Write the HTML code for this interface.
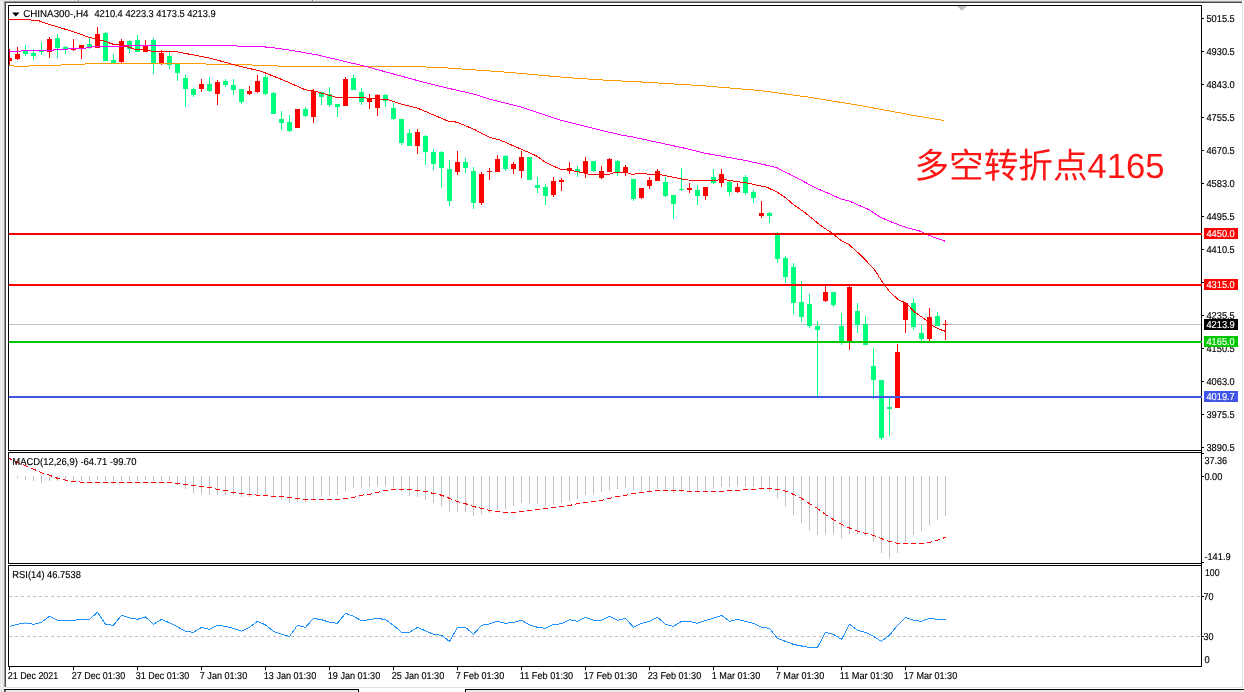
<!DOCTYPE html>
<html><head><meta charset="utf-8"><title>CHINA300 H4</title>
<style>
html,body{margin:0;padding:0;background:#fff;overflow:hidden}
svg{display:block;will-change:transform}
text{font-family:"Liberation Sans",sans-serif;white-space:pre;text-rendering:geometricPrecision}
rect,polyline,line{shape-rendering:crispEdges}
</style></head><body>
<svg width="1244" height="692" viewBox="0 0 1244 692">
<defs><clipPath id="cm"><rect x="9" y="6" width="1192" height="444"/></clipPath></defs>
<rect x="0" y="0" width="1244" height="692" fill="#fff"/>
<rect x="0" y="0" width="1244" height="1" fill="#e6e6e6"/>
<rect x="4" y="1" width="1238" height="1" fill="#a0a0a0"/>
<rect x="5" y="2" width="1237" height="1" fill="#484848"/>
<rect x="78" y="0" width="1" height="1" fill="#777"/>
<rect x="79" y="0" width="1" height="1" fill="#fff"/>
<rect x="312" y="0" width="1" height="1" fill="#777"/>
<rect x="313" y="0" width="1" height="1" fill="#fff"/>
<rect x="0" y="1" width="4" height="688" fill="#e6e6e6"/>
<rect x="1" y="1" width="1" height="688" fill="#f4f4f4"/>
<rect x="4" y="1" width="1" height="686" fill="#9a9a9a"/>
<rect x="5" y="2" width="1" height="685" fill="#484848"/>
<rect x="1242" y="3" width="1" height="685" fill="#e2e2e2"/>
<rect x="6" y="687" width="1236" height="1" fill="#e0e0e0"/>
<rect x="4" y="689" width="355" height="1" fill="#000"/>
<rect x="358" y="689" width="1" height="3" fill="#000"/>
<rect x="4" y="690" width="2" height="2" fill="#666"/>
<rect x="6" y="690" width="352" height="2" fill="#e8e8e8"/>
<rect x="465" y="689" width="779" height="1" fill="#000"/>
<rect x="465" y="689" width="1" height="3" fill="#000"/>
<rect x="466" y="690" width="778" height="2" fill="#e8e8e8"/>
<rect x="0" y="689" width="4" height="3" fill="#e6e6e6"/>
<rect x="9" y="324" width="1192" height="1" fill="#c0c0c0"/>
<polygon points="957,6 967,6 962,11" fill="#c0c0c0"/>
<g clip-path="url(#cm)">
<rect x="9" y="49" width="1" height="16" fill="#ff0000"/>
<rect x="7" y="58" width="5" height="3" fill="#ff0000"/>
<rect x="17" y="47" width="1" height="13" fill="#ff0000"/>
<rect x="15" y="54" width="5" height="5" fill="#ff0000"/>
<rect x="25" y="45" width="1" height="11" fill="#00ff7f"/>
<rect x="23" y="51" width="5" height="3" fill="#00ff7f"/>
<rect x="33" y="49" width="1" height="11" fill="#00ff7f"/>
<rect x="31" y="53" width="5" height="3" fill="#00ff7f"/>
<rect x="41" y="42" width="1" height="13" fill="#00ff7f"/>
<rect x="39" y="51" width="5" height="1" fill="#00ff7f"/>
<rect x="49" y="37" width="1" height="21" fill="#ff0000"/>
<rect x="47" y="39" width="5" height="13" fill="#ff0000"/>
<rect x="57" y="34" width="1" height="24" fill="#00ff7f"/>
<rect x="55" y="38" width="5" height="10" fill="#00ff7f"/>
<rect x="65" y="46" width="1" height="8" fill="#00ff7f"/>
<rect x="63" y="47" width="5" height="2" fill="#00ff7f"/>
<rect x="73" y="39" width="1" height="12" fill="#ff0000"/>
<rect x="71" y="49" width="5" height="1" fill="#ff0000"/>
<rect x="81" y="45" width="1" height="14" fill="#ff0000"/>
<rect x="79" y="45" width="5" height="3" fill="#ff0000"/>
<rect x="89" y="38" width="1" height="11" fill="#00ff7f"/>
<rect x="87" y="44" width="5" height="3" fill="#00ff7f"/>
<rect x="97" y="27" width="1" height="21" fill="#ff0000"/>
<rect x="95" y="34" width="5" height="14" fill="#ff0000"/>
<rect x="105" y="32" width="1" height="29" fill="#00ff7f"/>
<rect x="103" y="33" width="5" height="28" fill="#00ff7f"/>
<rect x="113" y="54" width="1" height="9" fill="#00ff7f"/>
<rect x="111" y="60" width="5" height="3" fill="#00ff7f"/>
<rect x="121" y="39" width="1" height="24" fill="#ff0000"/>
<rect x="119" y="41" width="5" height="21" fill="#ff0000"/>
<rect x="129" y="40" width="1" height="13" fill="#00ff7f"/>
<rect x="127" y="41" width="5" height="8" fill="#00ff7f"/>
<rect x="137" y="35" width="1" height="17" fill="#00ff7f"/>
<rect x="135" y="40" width="5" height="12" fill="#00ff7f"/>
<rect x="145" y="40" width="1" height="12" fill="#ff0000"/>
<rect x="143" y="46" width="5" height="6" fill="#ff0000"/>
<rect x="153" y="38" width="1" height="36" fill="#00ff7f"/>
<rect x="151" y="40" width="5" height="23" fill="#00ff7f"/>
<rect x="161" y="50" width="1" height="15" fill="#ff0000"/>
<rect x="159" y="53" width="5" height="11" fill="#ff0000"/>
<rect x="169" y="52" width="1" height="17" fill="#00ff7f"/>
<rect x="167" y="56" width="5" height="9" fill="#00ff7f"/>
<rect x="177" y="64" width="1" height="17" fill="#00ff7f"/>
<rect x="175" y="64" width="5" height="9" fill="#00ff7f"/>
<rect x="185" y="75" width="1" height="32" fill="#00ff7f"/>
<rect x="183" y="78" width="5" height="11" fill="#00ff7f"/>
<rect x="193" y="88" width="1" height="9" fill="#00ff7f"/>
<rect x="191" y="89" width="5" height="6" fill="#00ff7f"/>
<rect x="201" y="79" width="1" height="13" fill="#ff0000"/>
<rect x="199" y="84" width="5" height="5" fill="#ff0000"/>
<rect x="209" y="77" width="1" height="15" fill="#00ff7f"/>
<rect x="207" y="84" width="5" height="7" fill="#00ff7f"/>
<rect x="217" y="80" width="1" height="25" fill="#ff0000"/>
<rect x="215" y="82" width="5" height="12" fill="#ff0000"/>
<rect x="225" y="79" width="1" height="8" fill="#00ff7f"/>
<rect x="223" y="81" width="5" height="4" fill="#00ff7f"/>
<rect x="233" y="79" width="1" height="16" fill="#00ff7f"/>
<rect x="231" y="85" width="5" height="5" fill="#00ff7f"/>
<rect x="241" y="89" width="1" height="15" fill="#00ff7f"/>
<rect x="239" y="89" width="5" height="13" fill="#00ff7f"/>
<rect x="249" y="86" width="1" height="9" fill="#ff0000"/>
<rect x="247" y="91" width="5" height="3" fill="#ff0000"/>
<rect x="257" y="75" width="1" height="18" fill="#ff0000"/>
<rect x="255" y="81" width="5" height="11" fill="#ff0000"/>
<rect x="265" y="75" width="1" height="20" fill="#00ff7f"/>
<rect x="263" y="77" width="5" height="17" fill="#00ff7f"/>
<rect x="273" y="92" width="1" height="22" fill="#00ff7f"/>
<rect x="271" y="93" width="5" height="21" fill="#00ff7f"/>
<rect x="281" y="111" width="1" height="19" fill="#00ff7f"/>
<rect x="279" y="119" width="5" height="4" fill="#00ff7f"/>
<rect x="289" y="115" width="1" height="17" fill="#00ff7f"/>
<rect x="287" y="122" width="5" height="9" fill="#00ff7f"/>
<rect x="297" y="109" width="1" height="19" fill="#ff0000"/>
<rect x="295" y="109" width="5" height="19" fill="#ff0000"/>
<rect x="305" y="107" width="1" height="10" fill="#00ff7f"/>
<rect x="303" y="109" width="5" height="7" fill="#00ff7f"/>
<rect x="313" y="89" width="1" height="34" fill="#ff0000"/>
<rect x="311" y="91" width="5" height="26" fill="#ff0000"/>
<rect x="321" y="92" width="1" height="13" fill="#00ff7f"/>
<rect x="319" y="92" width="5" height="5" fill="#00ff7f"/>
<rect x="329" y="87" width="1" height="20" fill="#00ff7f"/>
<rect x="327" y="94" width="5" height="11" fill="#00ff7f"/>
<rect x="337" y="104" width="1" height="13" fill="#00ff7f"/>
<rect x="335" y="104" width="5" height="3" fill="#00ff7f"/>
<rect x="345" y="77" width="1" height="29" fill="#ff0000"/>
<rect x="343" y="79" width="5" height="27" fill="#ff0000"/>
<rect x="353" y="75" width="1" height="15" fill="#00ff7f"/>
<rect x="351" y="78" width="5" height="12" fill="#00ff7f"/>
<rect x="361" y="88" width="1" height="17" fill="#00ff7f"/>
<rect x="359" y="92" width="5" height="10" fill="#00ff7f"/>
<rect x="369" y="94" width="1" height="15" fill="#ff0000"/>
<rect x="367" y="99" width="5" height="3" fill="#ff0000"/>
<rect x="377" y="94" width="1" height="22" fill="#ff0000"/>
<rect x="375" y="95" width="5" height="13" fill="#ff0000"/>
<rect x="385" y="94" width="1" height="13" fill="#00ff7f"/>
<rect x="383" y="95" width="5" height="6" fill="#00ff7f"/>
<rect x="393" y="103" width="1" height="17" fill="#00ff7f"/>
<rect x="391" y="108" width="5" height="11" fill="#00ff7f"/>
<rect x="401" y="119" width="1" height="26" fill="#00ff7f"/>
<rect x="399" y="119" width="5" height="24" fill="#00ff7f"/>
<rect x="409" y="129" width="1" height="17" fill="#00ff7f"/>
<rect x="407" y="133" width="5" height="13" fill="#00ff7f"/>
<rect x="417" y="129" width="1" height="25" fill="#ff0000"/>
<rect x="415" y="132" width="5" height="14" fill="#ff0000"/>
<rect x="425" y="135" width="1" height="30" fill="#00ff7f"/>
<rect x="423" y="136" width="5" height="16" fill="#00ff7f"/>
<rect x="433" y="149" width="1" height="21" fill="#00ff7f"/>
<rect x="431" y="152" width="5" height="12" fill="#00ff7f"/>
<rect x="441" y="151" width="1" height="37" fill="#00ff7f"/>
<rect x="439" y="152" width="5" height="16" fill="#00ff7f"/>
<rect x="449" y="160" width="1" height="46" fill="#00ff7f"/>
<rect x="447" y="169" width="5" height="32" fill="#00ff7f"/>
<rect x="457" y="151" width="1" height="24" fill="#ff0000"/>
<rect x="455" y="162" width="5" height="10" fill="#ff0000"/>
<rect x="465" y="158" width="1" height="15" fill="#00ff7f"/>
<rect x="463" y="162" width="5" height="6" fill="#00ff7f"/>
<rect x="473" y="167" width="1" height="42" fill="#00ff7f"/>
<rect x="471" y="171" width="5" height="32" fill="#00ff7f"/>
<rect x="481" y="172" width="1" height="33" fill="#ff0000"/>
<rect x="479" y="174" width="5" height="29" fill="#ff0000"/>
<rect x="489" y="168" width="1" height="12" fill="#ff0000"/>
<rect x="487" y="171" width="5" height="1" fill="#ff0000"/>
<rect x="497" y="155" width="1" height="17" fill="#ff0000"/>
<rect x="495" y="159" width="5" height="13" fill="#ff0000"/>
<rect x="505" y="155" width="1" height="16" fill="#00ff7f"/>
<rect x="503" y="156" width="5" height="13" fill="#00ff7f"/>
<rect x="513" y="162" width="1" height="12" fill="#ff0000"/>
<rect x="511" y="164" width="5" height="5" fill="#ff0000"/>
<rect x="521" y="151" width="1" height="27" fill="#ff0000"/>
<rect x="519" y="157" width="5" height="14" fill="#ff0000"/>
<rect x="529" y="157" width="1" height="23" fill="#00ff7f"/>
<rect x="527" y="157" width="5" height="23" fill="#00ff7f"/>
<rect x="537" y="177" width="1" height="16" fill="#00ff7f"/>
<rect x="535" y="185" width="5" height="3" fill="#00ff7f"/>
<rect x="545" y="184" width="1" height="21" fill="#00ff7f"/>
<rect x="543" y="187" width="5" height="9" fill="#00ff7f"/>
<rect x="553" y="177" width="1" height="20" fill="#ff0000"/>
<rect x="551" y="181" width="5" height="14" fill="#ff0000"/>
<rect x="561" y="178" width="1" height="13" fill="#ff0000"/>
<rect x="559" y="180" width="5" height="2" fill="#ff0000"/>
<rect x="569" y="162" width="1" height="12" fill="#ff0000"/>
<rect x="567" y="168" width="5" height="3" fill="#ff0000"/>
<rect x="577" y="166" width="1" height="11" fill="#00ff7f"/>
<rect x="575" y="169" width="5" height="3" fill="#00ff7f"/>
<rect x="585" y="157" width="1" height="21" fill="#ff0000"/>
<rect x="583" y="161" width="5" height="12" fill="#ff0000"/>
<rect x="593" y="161" width="1" height="11" fill="#00ff7f"/>
<rect x="591" y="161" width="5" height="10" fill="#00ff7f"/>
<rect x="601" y="166" width="1" height="13" fill="#ff0000"/>
<rect x="599" y="171" width="5" height="7" fill="#ff0000"/>
<rect x="609" y="158" width="1" height="14" fill="#ff0000"/>
<rect x="607" y="159" width="5" height="13" fill="#ff0000"/>
<rect x="617" y="160" width="1" height="16" fill="#00ff7f"/>
<rect x="615" y="161" width="5" height="11" fill="#00ff7f"/>
<rect x="625" y="165" width="1" height="11" fill="#ff0000"/>
<rect x="623" y="167" width="5" height="6" fill="#ff0000"/>
<rect x="633" y="179" width="1" height="22" fill="#00ff7f"/>
<rect x="631" y="179" width="5" height="20" fill="#00ff7f"/>
<rect x="641" y="188" width="1" height="11" fill="#ff0000"/>
<rect x="639" y="188" width="5" height="10" fill="#ff0000"/>
<rect x="649" y="177" width="1" height="12" fill="#ff0000"/>
<rect x="647" y="180" width="5" height="6" fill="#ff0000"/>
<rect x="657" y="169" width="1" height="12" fill="#ff0000"/>
<rect x="655" y="171" width="5" height="10" fill="#ff0000"/>
<rect x="665" y="177" width="1" height="20" fill="#00ff7f"/>
<rect x="663" y="182" width="5" height="14" fill="#00ff7f"/>
<rect x="673" y="195" width="1" height="24" fill="#00ff7f"/>
<rect x="671" y="195" width="5" height="9" fill="#00ff7f"/>
<rect x="681" y="168" width="1" height="23" fill="#00ff7f"/>
<rect x="679" y="189" width="5" height="1" fill="#00ff7f"/>
<rect x="689" y="183" width="1" height="10" fill="#ff0000"/>
<rect x="687" y="188" width="5" height="2" fill="#ff0000"/>
<rect x="697" y="185" width="1" height="20" fill="#00ff7f"/>
<rect x="695" y="190" width="5" height="6" fill="#00ff7f"/>
<rect x="705" y="187" width="1" height="13" fill="#ff0000"/>
<rect x="703" y="187" width="5" height="9" fill="#ff0000"/>
<rect x="713" y="169" width="1" height="15" fill="#00ff7f"/>
<rect x="711" y="177" width="5" height="6" fill="#00ff7f"/>
<rect x="721" y="169" width="1" height="18" fill="#ff0000"/>
<rect x="719" y="174" width="5" height="9" fill="#ff0000"/>
<rect x="729" y="181" width="1" height="15" fill="#00ff7f"/>
<rect x="727" y="182" width="5" height="10" fill="#00ff7f"/>
<rect x="737" y="183" width="1" height="10" fill="#ff0000"/>
<rect x="735" y="187" width="5" height="5" fill="#ff0000"/>
<rect x="745" y="175" width="1" height="20" fill="#00ff7f"/>
<rect x="743" y="177" width="5" height="16" fill="#00ff7f"/>
<rect x="753" y="190" width="1" height="13" fill="#00ff7f"/>
<rect x="751" y="192" width="5" height="6" fill="#00ff7f"/>
<rect x="761" y="201" width="1" height="17" fill="#ff0000"/>
<rect x="759" y="213" width="5" height="3" fill="#ff0000"/>
<rect x="769" y="212" width="1" height="11" fill="#00ff7f"/>
<rect x="767" y="213" width="5" height="3" fill="#00ff7f"/>
<rect x="777" y="232" width="1" height="31" fill="#00ff7f"/>
<rect x="775" y="235" width="5" height="24" fill="#00ff7f"/>
<rect x="785" y="256" width="1" height="27" fill="#00ff7f"/>
<rect x="783" y="258" width="5" height="19" fill="#00ff7f"/>
<rect x="793" y="263" width="1" height="51" fill="#00ff7f"/>
<rect x="791" y="267" width="5" height="36" fill="#00ff7f"/>
<rect x="801" y="281" width="1" height="41" fill="#00ff7f"/>
<rect x="799" y="302" width="5" height="15" fill="#00ff7f"/>
<rect x="809" y="294" width="1" height="34" fill="#00ff7f"/>
<rect x="807" y="304" width="5" height="22" fill="#00ff7f"/>
<rect x="817" y="321" width="1" height="75" fill="#00ff7f"/>
<rect x="815" y="326" width="5" height="4" fill="#00ff7f"/>
<rect x="825" y="286" width="1" height="16" fill="#ff0000"/>
<rect x="823" y="292" width="5" height="9" fill="#ff0000"/>
<rect x="833" y="292" width="1" height="15" fill="#00ff7f"/>
<rect x="831" y="292" width="5" height="13" fill="#00ff7f"/>
<rect x="841" y="313" width="1" height="32" fill="#00ff7f"/>
<rect x="839" y="326" width="5" height="16" fill="#00ff7f"/>
<rect x="849" y="286" width="1" height="64" fill="#ff0000"/>
<rect x="847" y="287" width="5" height="54" fill="#ff0000"/>
<rect x="857" y="303" width="1" height="30" fill="#00ff7f"/>
<rect x="855" y="311" width="5" height="14" fill="#00ff7f"/>
<rect x="865" y="316" width="1" height="29" fill="#00ff7f"/>
<rect x="863" y="324" width="5" height="21" fill="#00ff7f"/>
<rect x="873" y="348" width="1" height="51" fill="#00ff7f"/>
<rect x="871" y="366" width="5" height="14" fill="#00ff7f"/>
<rect x="881" y="380" width="1" height="60" fill="#00ff7f"/>
<rect x="879" y="380" width="5" height="58" fill="#00ff7f"/>
<rect x="889" y="396" width="1" height="40" fill="#00ff7f"/>
<rect x="887" y="407" width="5" height="2" fill="#00ff7f"/>
<rect x="897" y="344" width="1" height="64" fill="#ff0000"/>
<rect x="895" y="352" width="5" height="56" fill="#ff0000"/>
<rect x="905" y="302" width="1" height="31" fill="#ff0000"/>
<rect x="903" y="303" width="5" height="17" fill="#ff0000"/>
<rect x="913" y="299" width="1" height="31" fill="#00ff7f"/>
<rect x="911" y="303" width="5" height="24" fill="#00ff7f"/>
<rect x="921" y="325" width="1" height="16" fill="#00ff7f"/>
<rect x="919" y="333" width="5" height="6" fill="#00ff7f"/>
<rect x="929" y="308" width="1" height="33" fill="#ff0000"/>
<rect x="927" y="317" width="5" height="22" fill="#ff0000"/>
<rect x="937" y="312" width="1" height="14" fill="#00ff7f"/>
<rect x="935" y="316" width="5" height="10" fill="#00ff7f"/>
<rect x="945" y="320" width="1" height="20" fill="#ff0000"/>
<rect x="943" y="324" width="5" height="1" fill="#ff0000"/>
</g>
<polyline points="9,65.4 13.4,65.4 14.4,66.5 28.8,66.5 29.8,65.5 60.3,65.4 62,64.8 84.7,64.4 86,63.5 164.5,63.5 205.7,63.4 206.5,64.5 277.7,65.3 278.5,66.3 320,66.3 405.2,66.1 446.3,67.9 510.6,72.5 567.2,77.6 613.5,80.7 630,81.3 702,85.7 758.6,90.4 810,97.3 861.5,105.8 913,115.3 944.3,120.5" fill="none" stroke="#ff9a00" stroke-width="1"/>
<polyline points="9,51.3 20.4,51.3 21.7,50.5 52.6,50.5 54,49.6 84.7,48.3 95,46.4 164.5,45.5 230,45.6 238,46.05 261.6,46.6 275,48 288.6,49.9 317.7,55 366.6,66.6 380,70.3 418,80.7 448.9,88.4 475,94.4 490,99.2 523.5,107.7 562,120.6 593,128.3 622.2,135.3 630,136.4 681.4,147.5 705,153.2 744.5,160.3 776.6,167.5 778.6,168.7 790,174.3 815.7,187.9 841.4,199.1 849.2,201 869.7,210 880,217.1 892.9,222.6 905.8,227.4 918.6,230.6 931.5,236.4 944.8,241.1" fill="none" stroke="#ff00ff" stroke-width="1"/>
<polyline points="9,19.8 29,19.8 38.6,20.7 48.2,24.1 57.9,27 67.5,29.9 77,32.9 88.6,37.2 95,38.7 102.7,40.6 113,44.2 120.8,45.1 128.5,47 136.2,49.6 145.2,49.8 152.9,51.3 164.5,51.3 173.5,51.2 187,53.7 211.4,58.5 237.2,65.6 261.6,71.4 288.6,82.3 305.3,89.8 315,91.2 320,92.6 336.2,97.3 357.4,97.3 372.9,98.6 388.3,99.8 399.9,103.7 417.9,108.3 448.8,121.4 456.5,122.1 464.5,125.3 475,129.8 490.2,137.6 500.5,140.2 521,149.1 536.5,155.9 545,162 555,166.8 560.4,169.1 566.9,169.5 583.6,172.9 590,174.6 609.3,174.2 615.7,172.3 627.3,172.9 632.5,174.6 637.6,173.3 645.3,173.3 647.9,174.2 658.2,174.2 673.6,177.4 687.8,180 705,180.3 716.9,180.3 719.4,179.3 725.9,179.9 746.4,182.9 767,187.3 777.3,192.2 785,197.3 794,205 804.3,212.1 818.5,223.7 824,228 830.5,231.9 840.7,240.2 848.5,244.1 861.3,255.7 874.2,269.2 883.2,283.3 889.6,291.7 898.6,300 906.3,303.2 914,311.6 920.5,316.1 926.3,320.2 932.8,326 939.2,329.2 945.6,331.4" fill="none" stroke="#ff0000" stroke-width="1"/>
<rect x="8" y="5" width="1194" height="1" fill="#000"/>
<rect x="8" y="5" width="1" height="446" fill="#000"/>
<rect x="8" y="450" width="1194" height="1" fill="#000"/>
<rect x="1201" y="5" width="1" height="662" fill="#000"/>
<rect x="9" y="233" width="1193" height="2" fill="#ff0000"/>
<rect x="9" y="284" width="1193" height="2" fill="#ff0000"/>
<rect x="9" y="341" width="1193" height="2" fill="#00c800"/>
<rect x="9" y="396" width="1193" height="2" fill="#4156e6"/>
<polygon points="12,12.5 19.6,12.5 15.8,16.6" fill="#000"/>
<text x="23.2" y="17" font-size="10" fill="#000" text-anchor="start" textLength="65.3" lengthAdjust="spacingAndGlyphs" stroke="#000" stroke-width="0.15">CHINA300-,H4</text>
<text x="94.4" y="17" font-size="10" fill="#000" text-anchor="start" textLength="28.4" lengthAdjust="spacingAndGlyphs" stroke="#000" stroke-width="0.15">4210.4</text>
<text x="125.4" y="17" font-size="10" fill="#000" text-anchor="start" textLength="28.4" lengthAdjust="spacingAndGlyphs" stroke="#000" stroke-width="0.15">4223.3</text>
<text x="156.3" y="17" font-size="10" fill="#000" text-anchor="start" textLength="28.4" lengthAdjust="spacingAndGlyphs" stroke="#000" stroke-width="0.15">4173.5</text>
<text x="187.3" y="17" font-size="10" fill="#000" text-anchor="start" textLength="28.4" lengthAdjust="spacingAndGlyphs" stroke="#000" stroke-width="0.15">4213.9</text>
<rect x="1202" y="18" width="2" height="1" fill="#000"/>
<text x="1206.4" y="22" font-size="10" fill="#000" text-anchor="start" textLength="28.4" lengthAdjust="spacingAndGlyphs" stroke="#000" stroke-width="0.15">5015.5</text>
<rect x="1202" y="51" width="2" height="1" fill="#000"/>
<text x="1206.4" y="55" font-size="10" fill="#000" text-anchor="start" textLength="28.4" lengthAdjust="spacingAndGlyphs" stroke="#000" stroke-width="0.15">4930.5</text>
<rect x="1202" y="84" width="2" height="1" fill="#000"/>
<text x="1206.4" y="88" font-size="10" fill="#000" text-anchor="start" textLength="28.4" lengthAdjust="spacingAndGlyphs" stroke="#000" stroke-width="0.15">4843.0</text>
<rect x="1202" y="117" width="2" height="1" fill="#000"/>
<text x="1206.4" y="121" font-size="10" fill="#000" text-anchor="start" textLength="28.4" lengthAdjust="spacingAndGlyphs" stroke="#000" stroke-width="0.15">4755.5</text>
<rect x="1202" y="150" width="2" height="1" fill="#000"/>
<text x="1206.4" y="154" font-size="10" fill="#000" text-anchor="start" textLength="28.4" lengthAdjust="spacingAndGlyphs" stroke="#000" stroke-width="0.15">4670.5</text>
<rect x="1202" y="183" width="2" height="1" fill="#000"/>
<text x="1206.4" y="187" font-size="10" fill="#000" text-anchor="start" textLength="28.4" lengthAdjust="spacingAndGlyphs" stroke="#000" stroke-width="0.15">4583.0</text>
<rect x="1202" y="216" width="2" height="1" fill="#000"/>
<text x="1206.4" y="220" font-size="10" fill="#000" text-anchor="start" textLength="28.4" lengthAdjust="spacingAndGlyphs" stroke="#000" stroke-width="0.15">4495.5</text>
<rect x="1202" y="249" width="2" height="1" fill="#000"/>
<text x="1206.4" y="253" font-size="10" fill="#000" text-anchor="start" textLength="28.4" lengthAdjust="spacingAndGlyphs" stroke="#000" stroke-width="0.15">4410.5</text>
<rect x="1202" y="282" width="2" height="1" fill="#000"/>
<rect x="1202" y="315" width="2" height="1" fill="#000"/>
<text x="1206.4" y="319" font-size="10" fill="#000" text-anchor="start" textLength="28.4" lengthAdjust="spacingAndGlyphs" stroke="#000" stroke-width="0.15">4235.5</text>
<rect x="1202" y="348" width="2" height="1" fill="#000"/>
<text x="1206.4" y="352" font-size="10" fill="#000" text-anchor="start" textLength="28.4" lengthAdjust="spacingAndGlyphs" stroke="#000" stroke-width="0.15">4150.5</text>
<rect x="1202" y="381" width="2" height="1" fill="#000"/>
<text x="1206.4" y="385" font-size="10" fill="#000" text-anchor="start" textLength="28.4" lengthAdjust="spacingAndGlyphs" stroke="#000" stroke-width="0.15">4063.0</text>
<rect x="1202" y="414" width="2" height="1" fill="#000"/>
<text x="1206.4" y="418" font-size="10" fill="#000" text-anchor="start" textLength="28.4" lengthAdjust="spacingAndGlyphs" stroke="#000" stroke-width="0.15">3975.5</text>
<rect x="1202" y="447" width="2" height="1" fill="#000"/>
<text x="1206.4" y="451" font-size="10" fill="#000" text-anchor="start" textLength="28.4" lengthAdjust="spacingAndGlyphs" stroke="#000" stroke-width="0.15">3890.5</text>
<rect x="1204" y="228" width="34" height="11" fill="#ff0000"/>
<text x="1206.4" y="237" font-size="10" fill="#fff" text-anchor="start" textLength="28.4" lengthAdjust="spacingAndGlyphs" stroke="#fff" stroke-width="0.15">4450.0</text>
<rect x="1204" y="279" width="34" height="11" fill="#ff0000"/>
<text x="1206.4" y="288" font-size="10" fill="#fff" text-anchor="start" textLength="28.4" lengthAdjust="spacingAndGlyphs" stroke="#fff" stroke-width="0.15">4315.0</text>
<rect x="1204" y="319" width="34" height="11" fill="#000"/>
<text x="1206.4" y="328" font-size="10" fill="#fff" text-anchor="start" textLength="28.4" lengthAdjust="spacingAndGlyphs" stroke="#fff" stroke-width="0.15">4213.9</text>
<rect x="1204" y="336" width="34" height="11" fill="#00c800"/>
<text x="1206.4" y="345" font-size="10" fill="#fff" text-anchor="start" textLength="28.4" lengthAdjust="spacingAndGlyphs" stroke="#fff" stroke-width="0.15">4165.0</text>
<rect x="1204" y="391" width="34" height="11" fill="#4156e6"/>
<text x="1206.4" y="400" font-size="10" fill="#fff" text-anchor="start" textLength="28.4" lengthAdjust="spacingAndGlyphs" stroke="#fff" stroke-width="0.15">4019.7</text>
<text x="914.5" y="178.2" font-size="34.9" fill="#ff1414" text-anchor="start" textLength="250" lengthAdjust="spacingAndGlyphs" style="font-family:'Liberation Sans','Noto Sans CJK SC',sans-serif">多空转折点4165</text>
<rect x="8" y="452" width="1194" height="1" fill="#000"/>
<rect x="8" y="452" width="1" height="112" fill="#000"/>
<rect x="8" y="563" width="1194" height="1" fill="#000"/>
<rect x="17" y="476" width="1" height="2" fill="#c0c0c0"/>
<rect x="25" y="476" width="1" height="4" fill="#c0c0c0"/>
<rect x="33" y="476" width="1" height="5" fill="#c0c0c0"/>
<rect x="41" y="476" width="1" height="7" fill="#c0c0c0"/>
<rect x="49" y="476" width="1" height="5" fill="#c0c0c0"/>
<rect x="57" y="476" width="1" height="5" fill="#c0c0c0"/>
<rect x="65" y="476" width="1" height="5" fill="#c0c0c0"/>
<rect x="73" y="476" width="1" height="5" fill="#c0c0c0"/>
<rect x="81" y="476" width="1" height="5" fill="#c0c0c0"/>
<rect x="89" y="476" width="1" height="5" fill="#c0c0c0"/>
<rect x="97" y="476" width="1" height="4" fill="#c0c0c0"/>
<rect x="105" y="476" width="1" height="5" fill="#c0c0c0"/>
<rect x="113" y="476" width="1" height="8" fill="#c0c0c0"/>
<rect x="121" y="476" width="1" height="5" fill="#c0c0c0"/>
<rect x="129" y="476" width="1" height="5" fill="#c0c0c0"/>
<rect x="137" y="476" width="1" height="5" fill="#c0c0c0"/>
<rect x="145" y="476" width="1" height="4" fill="#c0c0c0"/>
<rect x="153" y="476" width="1" height="5" fill="#c0c0c0"/>
<rect x="161" y="476" width="1" height="5" fill="#c0c0c0"/>
<rect x="169" y="476" width="1" height="5" fill="#c0c0c0"/>
<rect x="177" y="476" width="1" height="9" fill="#c0c0c0"/>
<rect x="185" y="476" width="1" height="13" fill="#c0c0c0"/>
<rect x="193" y="476" width="1" height="17" fill="#c0c0c0"/>
<rect x="201" y="476" width="1" height="18" fill="#c0c0c0"/>
<rect x="209" y="476" width="1" height="19" fill="#c0c0c0"/>
<rect x="217" y="476" width="1" height="19" fill="#c0c0c0"/>
<rect x="225" y="476" width="1" height="19" fill="#c0c0c0"/>
<rect x="233" y="476" width="1" height="19" fill="#c0c0c0"/>
<rect x="241" y="476" width="1" height="21" fill="#c0c0c0"/>
<rect x="249" y="476" width="1" height="21" fill="#c0c0c0"/>
<rect x="257" y="476" width="1" height="20" fill="#c0c0c0"/>
<rect x="265" y="476" width="1" height="20" fill="#c0c0c0"/>
<rect x="273" y="476" width="1" height="21" fill="#c0c0c0"/>
<rect x="281" y="476" width="1" height="24" fill="#c0c0c0"/>
<rect x="289" y="476" width="1" height="27" fill="#c0c0c0"/>
<rect x="297" y="476" width="1" height="26" fill="#c0c0c0"/>
<rect x="305" y="476" width="1" height="26" fill="#c0c0c0"/>
<rect x="313" y="476" width="1" height="24" fill="#c0c0c0"/>
<rect x="321" y="476" width="1" height="21" fill="#c0c0c0"/>
<rect x="329" y="476" width="1" height="20" fill="#c0c0c0"/>
<rect x="337" y="476" width="1" height="19" fill="#c0c0c0"/>
<rect x="345" y="476" width="1" height="15" fill="#c0c0c0"/>
<rect x="353" y="476" width="1" height="12" fill="#c0c0c0"/>
<rect x="361" y="476" width="1" height="12" fill="#c0c0c0"/>
<rect x="369" y="476" width="1" height="11" fill="#c0c0c0"/>
<rect x="377" y="476" width="1" height="10" fill="#c0c0c0"/>
<rect x="385" y="476" width="1" height="10" fill="#c0c0c0"/>
<rect x="393" y="476" width="1" height="12" fill="#c0c0c0"/>
<rect x="401" y="476" width="1" height="16" fill="#c0c0c0"/>
<rect x="409" y="476" width="1" height="20" fill="#c0c0c0"/>
<rect x="417" y="476" width="1" height="21" fill="#c0c0c0"/>
<rect x="425" y="476" width="1" height="24" fill="#c0c0c0"/>
<rect x="433" y="476" width="1" height="27" fill="#c0c0c0"/>
<rect x="441" y="476" width="1" height="30" fill="#c0c0c0"/>
<rect x="449" y="476" width="1" height="36" fill="#c0c0c0"/>
<rect x="457" y="476" width="1" height="36" fill="#c0c0c0"/>
<rect x="465" y="476" width="1" height="36" fill="#c0c0c0"/>
<rect x="473" y="476" width="1" height="40" fill="#c0c0c0"/>
<rect x="481" y="476" width="1" height="38" fill="#c0c0c0"/>
<rect x="489" y="476" width="1" height="37" fill="#c0c0c0"/>
<rect x="497" y="476" width="1" height="34" fill="#c0c0c0"/>
<rect x="505" y="476" width="1" height="33" fill="#c0c0c0"/>
<rect x="513" y="476" width="1" height="30" fill="#c0c0c0"/>
<rect x="521" y="476" width="1" height="27" fill="#c0c0c0"/>
<rect x="529" y="476" width="1" height="28" fill="#c0c0c0"/>
<rect x="537" y="476" width="1" height="28" fill="#c0c0c0"/>
<rect x="545" y="476" width="1" height="30" fill="#c0c0c0"/>
<rect x="553" y="476" width="1" height="29" fill="#c0c0c0"/>
<rect x="561" y="476" width="1" height="27" fill="#c0c0c0"/>
<rect x="569" y="476" width="1" height="25" fill="#c0c0c0"/>
<rect x="577" y="476" width="1" height="23" fill="#c0c0c0"/>
<rect x="585" y="476" width="1" height="19" fill="#c0c0c0"/>
<rect x="593" y="476" width="1" height="18" fill="#c0c0c0"/>
<rect x="601" y="476" width="1" height="16" fill="#c0c0c0"/>
<rect x="609" y="476" width="1" height="14" fill="#c0c0c0"/>
<rect x="617" y="476" width="1" height="13" fill="#c0c0c0"/>
<rect x="625" y="476" width="1" height="12" fill="#c0c0c0"/>
<rect x="633" y="476" width="1" height="14" fill="#c0c0c0"/>
<rect x="641" y="476" width="1" height="15" fill="#c0c0c0"/>
<rect x="649" y="476" width="1" height="15" fill="#c0c0c0"/>
<rect x="657" y="476" width="1" height="13" fill="#c0c0c0"/>
<rect x="665" y="476" width="1" height="15" fill="#c0c0c0"/>
<rect x="673" y="476" width="1" height="17" fill="#c0c0c0"/>
<rect x="681" y="476" width="1" height="16" fill="#c0c0c0"/>
<rect x="689" y="476" width="1" height="16" fill="#c0c0c0"/>
<rect x="697" y="476" width="1" height="16" fill="#c0c0c0"/>
<rect x="705" y="476" width="1" height="16" fill="#c0c0c0"/>
<rect x="713" y="476" width="1" height="13" fill="#c0c0c0"/>
<rect x="721" y="476" width="1" height="11" fill="#c0c0c0"/>
<rect x="729" y="476" width="1" height="11" fill="#c0c0c0"/>
<rect x="737" y="476" width="1" height="10" fill="#c0c0c0"/>
<rect x="745" y="476" width="1" height="11" fill="#c0c0c0"/>
<rect x="753" y="476" width="1" height="11" fill="#c0c0c0"/>
<rect x="761" y="476" width="1" height="14" fill="#c0c0c0"/>
<rect x="769" y="476" width="1" height="16" fill="#c0c0c0"/>
<rect x="777" y="476" width="1" height="22" fill="#c0c0c0"/>
<rect x="785" y="476" width="1" height="30" fill="#c0c0c0"/>
<rect x="793" y="476" width="1" height="39" fill="#c0c0c0"/>
<rect x="801" y="476" width="1" height="47" fill="#c0c0c0"/>
<rect x="809" y="476" width="1" height="54" fill="#c0c0c0"/>
<rect x="817" y="476" width="1" height="59" fill="#c0c0c0"/>
<rect x="825" y="476" width="1" height="58" fill="#c0c0c0"/>
<rect x="833" y="476" width="1" height="58" fill="#c0c0c0"/>
<rect x="841" y="476" width="1" height="62" fill="#c0c0c0"/>
<rect x="849" y="476" width="1" height="58" fill="#c0c0c0"/>
<rect x="857" y="476" width="1" height="58" fill="#c0c0c0"/>
<rect x="865" y="476" width="1" height="60" fill="#c0c0c0"/>
<rect x="873" y="476" width="1" height="66" fill="#c0c0c0"/>
<rect x="881" y="476" width="1" height="77" fill="#c0c0c0"/>
<rect x="889" y="476" width="1" height="82" fill="#c0c0c0"/>
<rect x="897" y="476" width="1" height="77" fill="#c0c0c0"/>
<rect x="905" y="476" width="1" height="66" fill="#c0c0c0"/>
<rect x="913" y="476" width="1" height="59" fill="#c0c0c0"/>
<rect x="921" y="476" width="1" height="55" fill="#c0c0c0"/>
<rect x="929" y="476" width="1" height="49" fill="#c0c0c0"/>
<rect x="937" y="476" width="1" height="44" fill="#c0c0c0"/>
<rect x="945" y="476" width="1" height="40" fill="#c0c0c0"/>
<polyline points="9,458 9.5,458.312 12,459.875" fill="none" stroke="#ff0000" stroke-width="1"/>
<polyline points="15,461.35 17.5,462.412 20,463.473" fill="none" stroke="#ff0000" stroke-width="1"/>
<polyline points="23,464.748 25.5,465.8 28,466.842" fill="none" stroke="#ff0000" stroke-width="1"/>
<polyline points="31,468.092 33.5,469.133 36,470.259" fill="none" stroke="#ff0000" stroke-width="1"/>
<polyline points="39,471.63 41.5,472.772 44,473.6" fill="none" stroke="#ff0000" stroke-width="1"/>
<polyline points="47,474.5 49.5,475.25 52,476.2" fill="none" stroke="#ff0000" stroke-width="1"/>
<polyline points="55,477.4 57.5,478.4 60,479" fill="none" stroke="#ff0000" stroke-width="1"/>
<polyline points="63,479.6 65.5,480.1 68,480.5" fill="none" stroke="#ff0000" stroke-width="1"/>
<polyline points="71,480.95 73.5,481.325 76,481.595" fill="none" stroke="#ff0000" stroke-width="1"/>
<polyline points="79,481.888 81.5,482.132 84,482.2" fill="none" stroke="#ff0000" stroke-width="1"/>
<polyline points="87,482.2 89.5,482.2 92,482.2" fill="none" stroke="#ff0000" stroke-width="1"/>
<polyline points="95,482.2 97.5,482.2 100,482.2" fill="none" stroke="#ff0000" stroke-width="1"/>
<polyline points="103,482.2 105.5,482.2 108,482.2" fill="none" stroke="#ff0000" stroke-width="1"/>
<polyline points="111,482.2 113.5,482.2 116,482.2" fill="none" stroke="#ff0000" stroke-width="1"/>
<polyline points="119,482.2 121.5,482.2 124,482.2" fill="none" stroke="#ff0000" stroke-width="1"/>
<polyline points="127,482.2 129.5,482.2 132,482.2" fill="none" stroke="#ff0000" stroke-width="1"/>
<polyline points="135,482.2 137.5,482.2 140,482.2" fill="none" stroke="#ff0000" stroke-width="1"/>
<polyline points="143,482.2 145.5,482.2 148,482.2" fill="none" stroke="#ff0000" stroke-width="1"/>
<polyline points="151,482.2 153.5,482.2 156,482.2" fill="none" stroke="#ff0000" stroke-width="1"/>
<polyline points="159,482.2 161.5,482.2 164,482.2" fill="none" stroke="#ff0000" stroke-width="1"/>
<polyline points="167,482.2 169.5,482.275 172,482.65" fill="none" stroke="#ff0000" stroke-width="1"/>
<polyline points="175,483.1 177.5,483.45 180,483.7" fill="none" stroke="#ff0000" stroke-width="1"/>
<polyline points="183,484 185.5,484.275 188,484.65" fill="none" stroke="#ff0000" stroke-width="1"/>
<polyline points="191,485.1 193.5,485.46 196,485.757" fill="none" stroke="#ff0000" stroke-width="1"/>
<polyline points="199,486.114 201.5,486.414 204,486.753" fill="none" stroke="#ff0000" stroke-width="1"/>
<polyline points="207,487.16 209.5,487.5 212,488.094" fill="none" stroke="#ff0000" stroke-width="1"/>
<polyline points="215,488.806 217.5,489.4 220,489.712" fill="none" stroke="#ff0000" stroke-width="1"/>
<polyline points="223,490.087 225.5,490.4 228,491.128" fill="none" stroke="#ff0000" stroke-width="1"/>
<polyline points="231,492.001 233.5,492.711 236,492.989" fill="none" stroke="#ff0000" stroke-width="1"/>
<polyline points="239,493.322 241.5,493.6 244,493.85" fill="none" stroke="#ff0000" stroke-width="1"/>
<polyline points="247,494.15 249.5,494.4 252,494.65" fill="none" stroke="#ff0000" stroke-width="1"/>
<polyline points="255,494.95 257.5,495.2 260,495.2" fill="none" stroke="#ff0000" stroke-width="1"/>
<polyline points="263,495.2 265.5,495.215 268,495.585" fill="none" stroke="#ff0000" stroke-width="1"/>
<polyline points="271,496.03 273.5,496.4 276,496.4" fill="none" stroke="#ff0000" stroke-width="1"/>
<polyline points="279,496.4 281.5,496.4 284,496.744" fill="none" stroke="#ff0000" stroke-width="1"/>
<polyline points="287,497.156 289.5,497.5 292,497.785" fill="none" stroke="#ff0000" stroke-width="1"/>
<polyline points="295,498.127 297.5,498.412 300,498.721" fill="none" stroke="#ff0000" stroke-width="1"/>
<polyline points="303,499.091 305.5,499.4 308,499.4" fill="none" stroke="#ff0000" stroke-width="1"/>
<polyline points="311,499.4 313.5,499.4 316,499.4" fill="none" stroke="#ff0000" stroke-width="1"/>
<polyline points="319,499.4 321.5,499.4 324,499.4" fill="none" stroke="#ff0000" stroke-width="1"/>
<polyline points="327,499.4 329.5,499.4 332,499.4" fill="none" stroke="#ff0000" stroke-width="1"/>
<polyline points="335,499.4 337.5,499.388 340,499.079" fill="none" stroke="#ff0000" stroke-width="1"/>
<polyline points="343,498.709 345.5,498.4 348,498.119" fill="none" stroke="#ff0000" stroke-width="1"/>
<polyline points="351,497.781 353.5,497.5 356,496.772" fill="none" stroke="#ff0000" stroke-width="1"/>
<polyline points="359,495.899 361.5,495.19 364,494.94" fill="none" stroke="#ff0000" stroke-width="1"/>
<polyline points="367,494.64 369.5,494.374 372,493.726" fill="none" stroke="#ff0000" stroke-width="1"/>
<polyline points="375,492.948 377.5,492.3 380,491.706" fill="none" stroke="#ff0000" stroke-width="1"/>
<polyline points="383,490.994 385.5,490.4 388,490.087" fill="none" stroke="#ff0000" stroke-width="1"/>
<polyline points="391,489.712 393.5,489.4 396,489.4" fill="none" stroke="#ff0000" stroke-width="1"/>
<polyline points="399,489.4 401.5,489.4 404,489.4" fill="none" stroke="#ff0000" stroke-width="1"/>
<polyline points="407,489.4 409.5,489.412 412,489.721" fill="none" stroke="#ff0000" stroke-width="1"/>
<polyline points="415,490.091 417.5,490.4 420,490.712" fill="none" stroke="#ff0000" stroke-width="1"/>
<polyline points="423,491.087 425.5,491.4 428,492.065" fill="none" stroke="#ff0000" stroke-width="1"/>
<polyline points="431,492.862 433.5,493.521 436,494.053" fill="none" stroke="#ff0000" stroke-width="1"/>
<polyline points="439,494.69 441.5,495.24 444,496.227" fill="none" stroke="#ff0000" stroke-width="1"/>
<polyline points="447,497.412 449.5,498.4 452,499.369" fill="none" stroke="#ff0000" stroke-width="1"/>
<polyline points="455,500.531 457.5,501.5 460,502.165" fill="none" stroke="#ff0000" stroke-width="1"/>
<polyline points="463,502.962 465.5,503.636 468,504.543" fill="none" stroke="#ff0000" stroke-width="1"/>
<polyline points="471,505.63 473.5,506.523 476,507.11" fill="none" stroke="#ff0000" stroke-width="1"/>
<polyline points="479,507.814 481.5,508.4 484,509.056" fill="none" stroke="#ff0000" stroke-width="1"/>
<polyline points="487,509.844 489.5,510.5 492,510.816" fill="none" stroke="#ff0000" stroke-width="1"/>
<polyline points="495,511.196 497.5,511.511 500,511.793" fill="none" stroke="#ff0000" stroke-width="1"/>
<polyline points="503,512.13 505.5,512.4 508,512.4" fill="none" stroke="#ff0000" stroke-width="1"/>
<polyline points="511,512.4 513.5,512.4 516,512.119" fill="none" stroke="#ff0000" stroke-width="1"/>
<polyline points="519,511.781 521.5,511.5 524,511.184" fill="none" stroke="#ff0000" stroke-width="1"/>
<polyline points="527,510.804 529.5,510.488 532,510.175" fill="none" stroke="#ff0000" stroke-width="1"/>
<polyline points="535,509.8 537.5,509.486 540,509.142" fill="none" stroke="#ff0000" stroke-width="1"/>
<polyline points="543,508.73 545.5,508.388 548,508.079" fill="none" stroke="#ff0000" stroke-width="1"/>
<polyline points="551,507.709 553.5,507.4 556,507.115" fill="none" stroke="#ff0000" stroke-width="1"/>
<polyline points="559,506.773 561.5,506.488 564,506.175" fill="none" stroke="#ff0000" stroke-width="1"/>
<polyline points="567,505.8 569.5,505.476 572,504.882" fill="none" stroke="#ff0000" stroke-width="1"/>
<polyline points="575,504.17 577.5,503.586 580,503.247" fill="none" stroke="#ff0000" stroke-width="1"/>
<polyline points="583,502.84 585.5,502.5 588,502.188" fill="none" stroke="#ff0000" stroke-width="1"/>
<polyline points="591,501.812 593.5,501.5 596,501.152" fill="none" stroke="#ff0000" stroke-width="1"/>
<polyline points="599,500.734 601.5,500.375 604,499.75" fill="none" stroke="#ff0000" stroke-width="1"/>
<polyline points="607,499 609.5,498.375 612,497.75" fill="none" stroke="#ff0000" stroke-width="1"/>
<polyline points="615,497 617.5,496.388 620,496.079" fill="none" stroke="#ff0000" stroke-width="1"/>
<polyline points="623,495.709 625.5,495.4 628,494.799" fill="none" stroke="#ff0000" stroke-width="1"/>
<polyline points="631,494.077 633.5,493.485 636,493.11" fill="none" stroke="#ff0000" stroke-width="1"/>
<polyline points="639,492.66 641.5,492.289 644,492.007" fill="none" stroke="#ff0000" stroke-width="1"/>
<polyline points="647,491.67 649.5,491.388 652,491.079" fill="none" stroke="#ff0000" stroke-width="1"/>
<polyline points="655,490.709 657.5,490.4 660,490.4" fill="none" stroke="#ff0000" stroke-width="1"/>
<polyline points="663,490.4 665.5,490.4 668,490.4" fill="none" stroke="#ff0000" stroke-width="1"/>
<polyline points="671,490.4 673.5,490.4 676,490.4" fill="none" stroke="#ff0000" stroke-width="1"/>
<polyline points="679,490.4 681.5,490.412 684,490.721" fill="none" stroke="#ff0000" stroke-width="1"/>
<polyline points="687,491.091 689.5,491.4 692,491.4" fill="none" stroke="#ff0000" stroke-width="1"/>
<polyline points="695,491.4 697.5,491.4 700,491.4" fill="none" stroke="#ff0000" stroke-width="1"/>
<polyline points="703,491.4 705.5,491.4 708,491.4" fill="none" stroke="#ff0000" stroke-width="1"/>
<polyline points="711,491.4 713.5,491.4 716,491.4" fill="none" stroke="#ff0000" stroke-width="1"/>
<polyline points="719,491.4 721.5,491.4 724,491.079" fill="none" stroke="#ff0000" stroke-width="1"/>
<polyline points="727,490.695 729.5,490.4 732,490.4" fill="none" stroke="#ff0000" stroke-width="1"/>
<polyline points="735,490.4 737.5,490.387 740,490.075" fill="none" stroke="#ff0000" stroke-width="1"/>
<polyline points="743,489.7 745.5,489.4 748,489.4" fill="none" stroke="#ff0000" stroke-width="1"/>
<polyline points="751,489.4 753.5,489.4 756,489.144" fill="none" stroke="#ff0000" stroke-width="1"/>
<polyline points="759,488.836 761.5,488.6 764,488.6" fill="none" stroke="#ff0000" stroke-width="1"/>
<polyline points="767,488.6 769.5,488.6 772,488.85" fill="none" stroke="#ff0000" stroke-width="1"/>
<polyline points="775,489.15 777.5,489.4 780,489.906" fill="none" stroke="#ff0000" stroke-width="1"/>
<polyline points="783,490.514 785.5,491.042 788,492.091" fill="none" stroke="#ff0000" stroke-width="1"/>
<polyline points="791,493.351 793.5,494.4 796,495.65" fill="none" stroke="#ff0000" stroke-width="1"/>
<polyline points="799,497.15 801.5,498.4 804,500.025" fill="none" stroke="#ff0000" stroke-width="1"/>
<polyline points="807,501.975 809.5,503.6 812,505.119" fill="none" stroke="#ff0000" stroke-width="1"/>
<polyline points="815,506.942 817.5,508.475 820,510.358" fill="none" stroke="#ff0000" stroke-width="1"/>
<polyline points="823,512.617 825.5,514.5 828,516.125" fill="none" stroke="#ff0000" stroke-width="1"/>
<polyline points="831,518.075 833.5,519.7 836,521.2" fill="none" stroke="#ff0000" stroke-width="1"/>
<polyline points="839,523 841.5,524.5 844,525.608" fill="none" stroke="#ff0000" stroke-width="1"/>
<polyline points="847,526.937 849.5,528.04 852,529.04" fill="none" stroke="#ff0000" stroke-width="1"/>
<polyline points="855,530.24 857.5,531.226 860,531.874" fill="none" stroke="#ff0000" stroke-width="1"/>
<polyline points="863,532.652 865.5,533.3 868,533.956" fill="none" stroke="#ff0000" stroke-width="1"/>
<polyline points="871,534.744 873.5,535.4 876,536.413" fill="none" stroke="#ff0000" stroke-width="1"/>
<polyline points="879,537.628 881.5,538.635 884,539.51" fill="none" stroke="#ff0000" stroke-width="1"/>
<polyline points="887,540.56 889.5,541.423 892,542.01" fill="none" stroke="#ff0000" stroke-width="1"/>
<polyline points="895,542.714 897.5,543.3 900,543.3" fill="none" stroke="#ff0000" stroke-width="1"/>
<polyline points="903,543.3 905.5,543.3 908,543.3" fill="none" stroke="#ff0000" stroke-width="1"/>
<polyline points="911,543.3 913.5,543.3 916,543.3" fill="none" stroke="#ff0000" stroke-width="1"/>
<polyline points="919,543.3 921.5,543.288 924,542.979" fill="none" stroke="#ff0000" stroke-width="1"/>
<polyline points="927,542.609 929.5,542.3 932,541.644" fill="none" stroke="#ff0000" stroke-width="1"/>
<polyline points="935,540.856 937.5,540.2 940,539.282" fill="none" stroke="#ff0000" stroke-width="1"/>
<polyline points="943,538.181 945.5,537.3 945.5,537.3" fill="none" stroke="#ff0000" stroke-width="1"/>
<text x="12.3" y="465" font-size="10" fill="#000" text-anchor="start" textLength="124.2" lengthAdjust="spacingAndGlyphs" stroke="#000" stroke-width="0.15">MACD(12,26,9) -64.71 -99.70</text>
<rect x="1202" y="453" width="2" height="1" fill="#000"/>
<rect x="1202" y="476" width="2" height="1" fill="#000"/>
<rect x="1202" y="562" width="2" height="1" fill="#000"/>
<text x="1204.4" y="464" font-size="10" fill="#000" text-anchor="start" textLength="22.8" lengthAdjust="spacingAndGlyphs" stroke="#000" stroke-width="0.15">37.36</text>
<text x="1204.4" y="480" font-size="10" fill="#000" text-anchor="start" textLength="18" lengthAdjust="spacingAndGlyphs" stroke="#000" stroke-width="0.15">0.00</text>
<text x="1204.4" y="560" font-size="10" fill="#000" text-anchor="start" textLength="26.2" lengthAdjust="spacingAndGlyphs" stroke="#000" stroke-width="0.15">-141.9</text>
<rect x="8" y="565" width="1194" height="1" fill="#000"/>
<rect x="8" y="565" width="1" height="102" fill="#000"/>
<rect x="8" y="666" width="1194" height="1" fill="#000"/>
<line x1="9" y1="596.5" x2="1201" y2="596.5" stroke="#c0c0c0" stroke-width="1" stroke-dasharray="3 3"/>
<line x1="9" y1="636.5" x2="1201" y2="636.5" stroke="#c0c0c0" stroke-width="1" stroke-dasharray="3 3"/>
<polyline points="9.5,626.3 17.5,624.3 25.5,622.9 33.5,624.3 41.5,622.3 49.5,616.3 57.5,620.3 65.5,620.3 73.5,620.3 81.5,619.3 89.5,619.3 97.5,612.2 105.5,624.3 113.5,625.3 121.5,615.3 129.5,617.9 137.5,619.3 145.5,616.9 153.5,624.3 161.5,619.3 169.5,622.9 177.5,626.9 185.5,631.3 193.5,632.3 201.5,627.3 209.5,629.3 217.5,625.3 225.5,626.3 233.5,628.3 241.5,631.3 249.5,627.3 257.5,621.3 265.5,624.9 273.5,631.3 281.5,634.3 289.5,636.4 297.5,625.3 305.5,627.3 313.5,618.3 321.5,619.7 329.5,622.3 337.5,623.3 345.5,613.2 353.5,616.3 361.5,620.7 369.5,619.7 377.5,618.3 385.5,619.7 393.5,625.3 401.5,632.3 409.5,632.3 417.5,627.3 425.5,630.9 433.5,634.3 441.5,635.3 449.5,641.4 457.5,627.3 465.5,627.3 473.5,634.3 481.5,625.3 489.5,623.9 497.5,621.3 505.5,623.3 513.5,622.3 521.5,620.3 529.5,624.9 537.5,627.3 545.5,628.3 553.5,624.3 561.5,623.9 569.5,619.7 577.5,621.3 585.5,617.3 593.5,620.3 601.5,620.3 609.5,616.3 617.5,620.3 625.5,618.3 633.5,627.3 641.5,623.3 649.5,621.3 657.5,617.3 665.5,624.3 673.5,626.3 681.5,621.3 689.5,621.3 697.5,623.3 705.5,620.3 713.5,618.3 721.5,615.3 729.5,621.3 737.5,619.3 745.5,621.3 753.5,623.3 761.5,627.3 769.5,628.3 777.5,638.4 785.5,641.4 793.5,644.4 801.5,646 809.5,647.4 817.5,647.4 825.5,632.3 833.5,634.3 841.5,639.4 849.5,624.3 857.5,630.3 865.5,632.3 873.5,636.4 881.5,641.4 889.5,635.3 897.5,625.3 905.5,617.3 913.5,620.3 921.5,621.3 929.5,618.3 937.5,619.3 945.5,619.3" fill="none" stroke="#1e90ff" stroke-width="1"/>
<text x="12.3" y="578" font-size="10" fill="#000" text-anchor="start" textLength="68.6" lengthAdjust="spacingAndGlyphs" stroke="#000" stroke-width="0.15">RSI(14) 46.7538</text>
<text x="1205" y="576" font-size="10" fill="#000" text-anchor="start" textLength="14.6" lengthAdjust="spacingAndGlyphs" stroke="#000" stroke-width="0.15">100</text>
<text x="1203.6" y="600" font-size="10" fill="#000" text-anchor="start" textLength="10" lengthAdjust="spacingAndGlyphs" stroke="#000" stroke-width="0.15">70</text>
<text x="1203.6" y="640" font-size="10" fill="#000" text-anchor="start" textLength="10" lengthAdjust="spacingAndGlyphs" stroke="#000" stroke-width="0.15">30</text>
<text x="1204.6" y="663" font-size="10" fill="#000" text-anchor="start" textLength="5.2" lengthAdjust="spacingAndGlyphs" stroke="#000" stroke-width="0.15">0</text>
<rect x="1202" y="596" width="2" height="1" fill="#000"/>
<rect x="1202" y="636" width="2" height="1" fill="#000"/>
<rect x="9" y="667" width="1" height="3" fill="#000"/>
<text x="7.8" y="679" font-size="10" fill="#000" text-anchor="start" textLength="50.4" lengthAdjust="spacingAndGlyphs" stroke="#000" stroke-width="0.15">21 Dec 2021</text>
<rect x="73" y="667" width="1" height="3" fill="#000"/>
<text x="71.8" y="679" font-size="10" fill="#000" text-anchor="start" textLength="53.4" lengthAdjust="spacingAndGlyphs" stroke="#000" stroke-width="0.15">27 Dec 01:30</text>
<rect x="137" y="667" width="1" height="3" fill="#000"/>
<text x="135.8" y="679" font-size="10" fill="#000" text-anchor="start" textLength="53.4" lengthAdjust="spacingAndGlyphs" stroke="#000" stroke-width="0.15">31 Dec 01:30</text>
<rect x="201" y="667" width="1" height="3" fill="#000"/>
<text x="199.8" y="679" font-size="10" fill="#000" text-anchor="start" textLength="47.4" lengthAdjust="spacingAndGlyphs" stroke="#000" stroke-width="0.15">7 Jan 01:30</text>
<rect x="265" y="667" width="1" height="3" fill="#000"/>
<text x="263.8" y="679" font-size="10" fill="#000" text-anchor="start" textLength="52.4" lengthAdjust="spacingAndGlyphs" stroke="#000" stroke-width="0.15">13 Jan 01:30</text>
<rect x="329" y="667" width="1" height="3" fill="#000"/>
<text x="327.8" y="679" font-size="10" fill="#000" text-anchor="start" textLength="52.4" lengthAdjust="spacingAndGlyphs" stroke="#000" stroke-width="0.15">19 Jan 01:30</text>
<rect x="393" y="667" width="1" height="3" fill="#000"/>
<text x="391.8" y="679" font-size="10" fill="#000" text-anchor="start" textLength="52.4" lengthAdjust="spacingAndGlyphs" stroke="#000" stroke-width="0.15">25 Jan 01:30</text>
<rect x="457" y="667" width="1" height="3" fill="#000"/>
<text x="455.8" y="679" font-size="10" fill="#000" text-anchor="start" textLength="48.4" lengthAdjust="spacingAndGlyphs" stroke="#000" stroke-width="0.15">7 Feb 01:30</text>
<rect x="521" y="667" width="1" height="3" fill="#000"/>
<text x="519.8" y="679" font-size="10" fill="#000" text-anchor="start" textLength="53.4" lengthAdjust="spacingAndGlyphs" stroke="#000" stroke-width="0.15">11 Feb 01:30</text>
<rect x="585" y="667" width="1" height="3" fill="#000"/>
<text x="583.8" y="679" font-size="10" fill="#000" text-anchor="start" textLength="53.4" lengthAdjust="spacingAndGlyphs" stroke="#000" stroke-width="0.15">17 Feb 01:30</text>
<rect x="649" y="667" width="1" height="3" fill="#000"/>
<text x="647.8" y="679" font-size="10" fill="#000" text-anchor="start" textLength="53.4" lengthAdjust="spacingAndGlyphs" stroke="#000" stroke-width="0.15">23 Feb 01:30</text>
<rect x="713" y="667" width="1" height="3" fill="#000"/>
<text x="711.8" y="679" font-size="10" fill="#000" text-anchor="start" textLength="48.4" lengthAdjust="spacingAndGlyphs" stroke="#000" stroke-width="0.15">1 Mar 01:30</text>
<rect x="777" y="667" width="1" height="3" fill="#000"/>
<text x="775.8" y="679" font-size="10" fill="#000" text-anchor="start" textLength="48.4" lengthAdjust="spacingAndGlyphs" stroke="#000" stroke-width="0.15">7 Mar 01:30</text>
<rect x="841" y="667" width="1" height="3" fill="#000"/>
<text x="839.8" y="679" font-size="10" fill="#000" text-anchor="start" textLength="53.4" lengthAdjust="spacingAndGlyphs" stroke="#000" stroke-width="0.15">11 Mar 01:30</text>
<rect x="905" y="667" width="1" height="3" fill="#000"/>
<text x="903.8" y="679" font-size="10" fill="#000" text-anchor="start" textLength="53.4" lengthAdjust="spacingAndGlyphs" stroke="#000" stroke-width="0.15">17 Mar 01:30</text>
</svg>
</body></html>
